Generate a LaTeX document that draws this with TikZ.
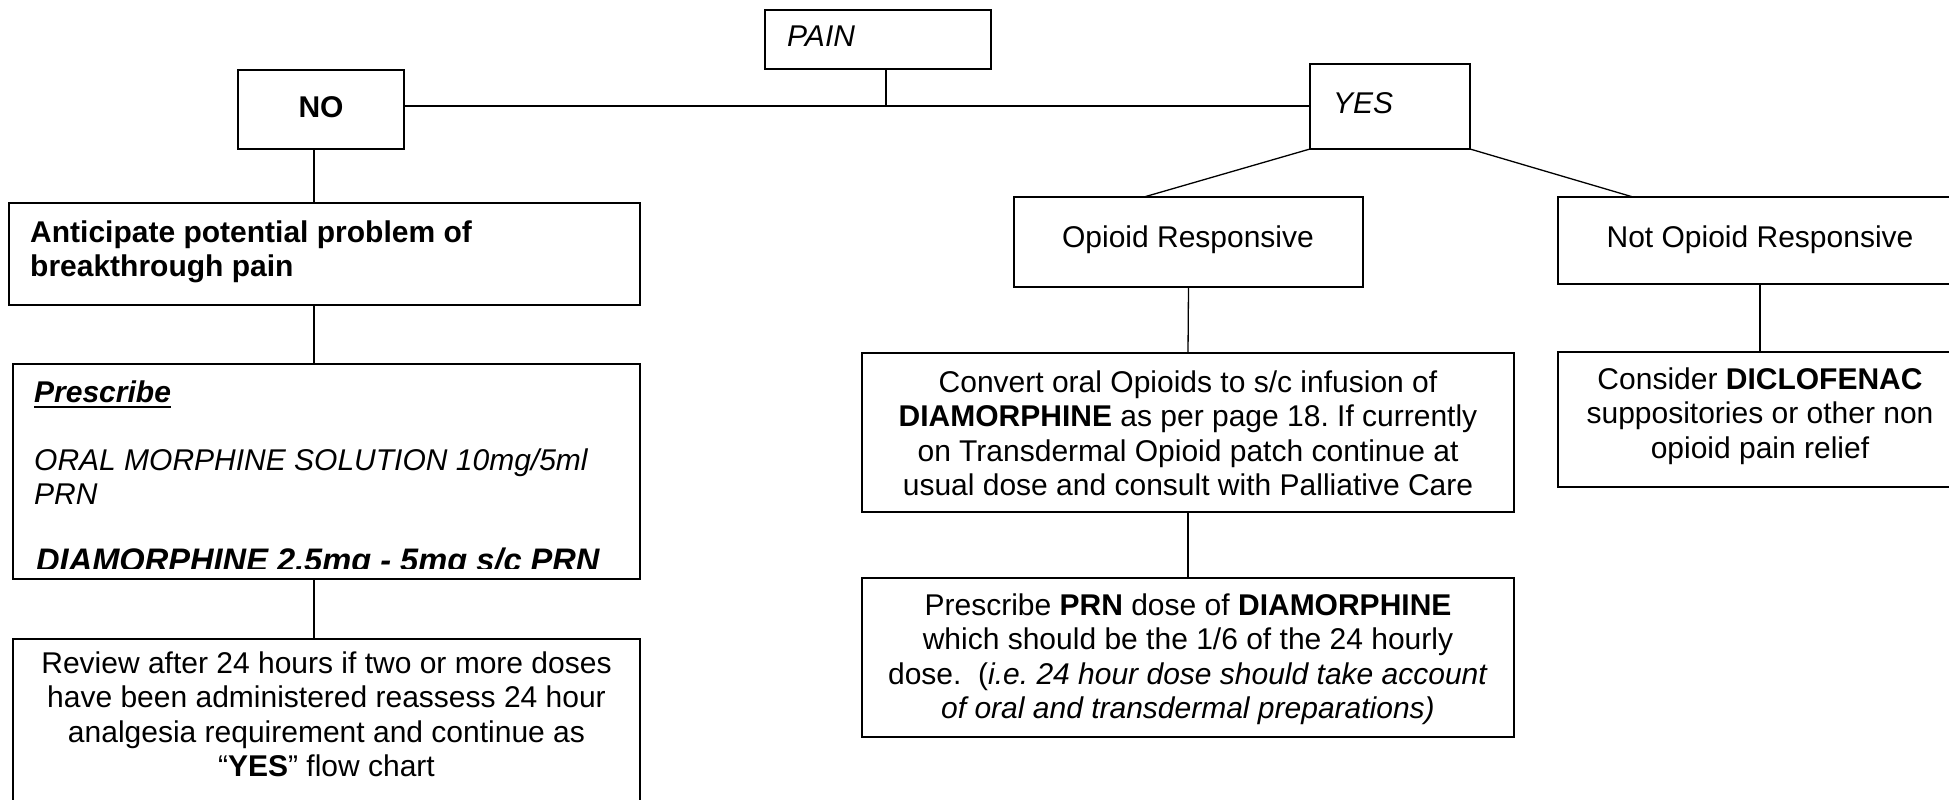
\documentclass[tikz,border=0pt]{standalone}
\usepackage{fontspec}
\setmainfont{Liberation Sans}
\usetikzlibrary{calc}
\frenchspacing
\newcommand{\fs}{\fontsize{30}{34.5}\selectfont}
\newcommand{\prescul}[1]{\setbox0\hbox{#1}\rlap{\rule[-6pt]{\wd0}{2.5pt}}\box0}
\begin{document}
\begin{tikzpicture}[x=1pt,y=-1pt,
  box/.style={draw, line width=1.6pt, inner sep=0pt, outer sep=0pt, anchor=north west},
  link/.style={line width=1.3pt},
  txt/.style={inner sep=0pt, font=\fs},
  firstbase/.style={yshift=24.15pt},
]
\useasboundingbox[fill=white] (0,0) rectangle (1949,800);
\clip (0,0) rectangle (1949,800);

% boxes
\node[box, minimum width=226pt, minimum height=59pt] (pain) at (765,10) {};
\node[box, minimum width=166pt, minimum height=79pt] (no) at (238,70) {};
\node[box, minimum width=160pt, minimum height=85pt] (yes) at (1310,64) {};
\node[box, minimum width=631pt, minimum height=102pt] (ant) at (9,203) {};
\node[box, minimum width=627pt, minimum height=215pt] (presc) at (13,364) {};
\node[box, minimum width=627pt, minimum height=200pt] (review) at (13,639) {};
\node[box, minimum width=349pt, minimum height=90pt] (op) at (1014,197) {};
\node[box, minimum width=404pt, minimum height=87pt] (nop) at (1558,197) {};
\node[box, minimum width=652pt, minimum height=159pt] (conv) at (862,353) {};
\node[box, minimum width=652pt, minimum height=159pt] (prn) at (862,578) {};
\node[box, minimum width=404pt, minimum height=135pt] (cons) at (1558,352) {};

% helper coordinates
\coordinate (j) at (886,106);
\coordinate (lc) at (314,0);

% connectors
\draw[link] (j |- pain.south) -- (j);
\draw[link] (no.east |- j) -- (yes.west |- j);
\draw[link] (lc |- no.south) -- (lc |- ant.north);
\draw[link] (lc |- ant.south) -- (lc |- presc.north);
\draw[link] (lc |- presc.south) -- (lc |- review.north);
\draw[link] (yes.south west) -- ($(op.north west)+(130,0)$);
\draw[link] (yes.south east) -- ($(nop.north west)+(75,0)$);
\draw[link] (op.south) -- (conv.north);
\draw[link] (conv.south) -- (prn.north);
\draw[link] (nop.south) -- (cons.north);

% texts
\node[txt, anchor=base west] (paint) at (787,47) {\itshape PAIN};
\node[txt, anchor=base] (not) at (321,117) {\bfseries NO};
\node[txt, anchor=base west] (yest) at (1333,113) {\itshape YES};

\node[txt, anchor=north west, firstbase, align=left, font={\fs\bfseries}] (antt) at (30,242)
  {\strut Anticipate potential problem of\\breakthrough pain};

\begin{scope}
  \clip (14,365) rectangle (639,568);
  \node[txt, anchor=base west] (prest) at (34,402) {\bfseries\itshape\prescul{Prescribe}};
  \node[txt, anchor=north west, firstbase, align=left, font={\fs\itshape}] (oralt) at (34,470)
    {\strut ORAL MORPHINE SOLUTION 10mg/5ml\\PRN};
  \node[inner sep=0pt, anchor=base west, font={\fontsize{32.6}{37}\selectfont\bfseries\itshape}] (diamt) at (36,571)
    {DIAMORPHINE 2.5mg - 5mg s/c PRN};
\end{scope}

\node[txt, anchor=north, firstbase, align=center] (reviewt) at (326.5,673)
  {\strut Review after 24 hours if two or more doses\\
   have been administered reassess 24 hour\\
   analgesia requirement and continue as\\
   “\textbf{YES}” flow chart};

\node[txt, anchor=base] (opt) at (1188,247) {Opioid Responsive};
\node[txt, anchor=base] (nopt) at (1760,247) {Not Opioid Responsive};

\node[txt, anchor=north, firstbase, align=center] (convt) at (1188,392)
  {\strut Convert oral Opioids to s/c infusion of\\
   \textbf{DIAMORPHINE} as per page 18. If currently\\
   on Transdermal Opioid patch continue at\\
   usual dose and consult with Palliative Care};

\node[txt, anchor=north, firstbase, align=center] (prnt) at (1188,615)
  {\strut Prescribe \textbf{PRN} dose of \textbf{DIAMORPHINE}\\
   which should be the 1/6 of the 24 hourly\\
   dose.\ \ (\textit{i.e. 24 hour dose should take account}\\
   \textit{of oral and transdermal preparations)}};

\node[txt, anchor=north, firstbase, align=center] (const) at (1760,389)
  {\strut Consider \textbf{DICLOFENAC}\\
   suppositories or other non\\
   opioid pain relief};
\end{tikzpicture}
\end{document}
